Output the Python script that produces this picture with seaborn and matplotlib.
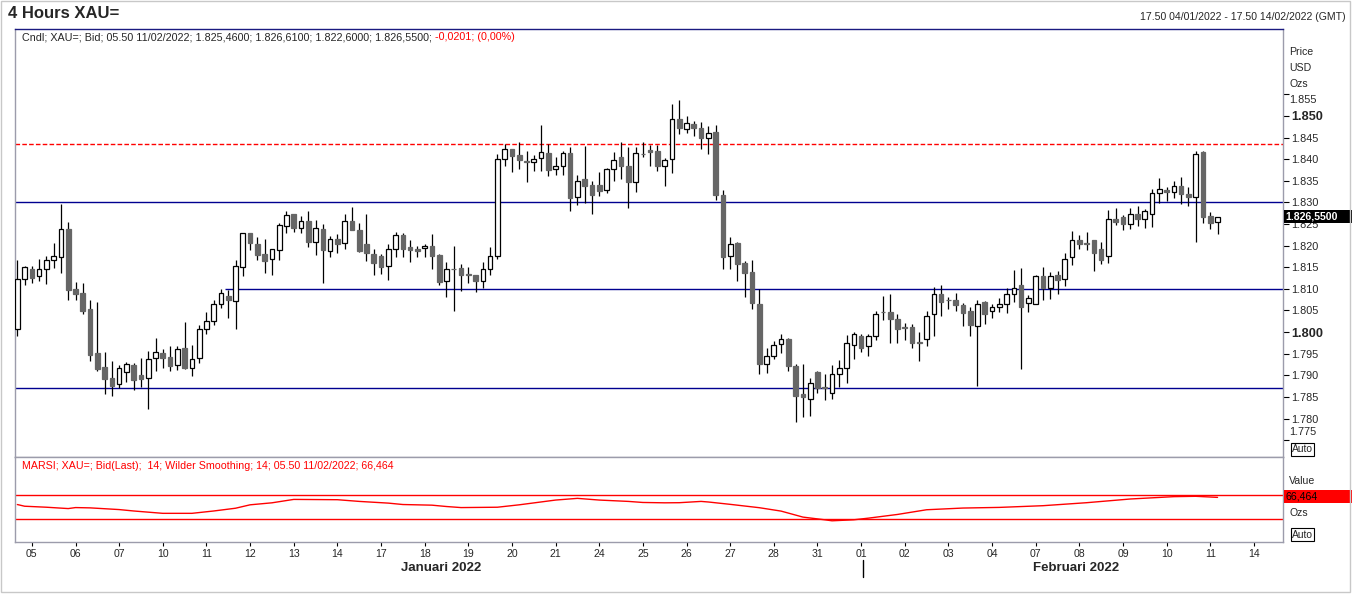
import numpy as np
import pandas as pd
import matplotlib
matplotlib.use("Agg")
import matplotlib.pyplot as plt
import matplotlib.transforms as mtransforms
from matplotlib.patches import Rectangle
from matplotlib.lines import Line2D
import seaborn as sns

# 4h candles, 04/01/2022 17.50 -> 11/02/2022 05.50 (prices in USD)
opens = [1800.8, 1812.2, 1814.7, 1812.9, 1814.7, 1816.6, 1817.3, 1823.8, 1810.0, 1809.0,
         1805.3, 1795.1, 1791.9, 1789.4, 1787.9, 1790.8, 1792.4, 1790.0, 1789.3, 1794.1,
         1795.1, 1794.2, 1792.3, 1796.3, 1791.7, 1793.9, 1800.8, 1802.5, 1806.6, 1808.3,
         1807.1, 1815.0, 1822.8, 1820.4, 1818.1, 1816.8, 1818.9, 1824.5, 1827.2, 1824.0,
         1825.8, 1820.8, 1823.8, 1818.8, 1821.5, 1820.5, 1825.6, 1823.5, 1820.3, 1818.1,
         1817.6, 1815.2, 1819.1, 1822.4, 1819.6, 1819.1, 1819.4, 1819.9, 1817.8, 1811.7,
         1814.7, 1814.8, 1813.4, 1813.2, 1811.7, 1814.5, 1817.7, 1840.0, 1842.3, 1841.0,
         1839.6, 1839.4, 1840.2, 1841.4, 1837.7, 1838.3, 1841.4, 1831.3, 1835.3, 1834.0,
         1834.0, 1832.8, 1837.7, 1840.5, 1838.4, 1834.6, 1841.3, 1842.1, 1841.9, 1838.3,
         1840.0, 1849.2, 1846.9, 1848.1, 1847.1, 1844.8, 1846.2, 1831.6, 1817.5, 1820.6,
         1815.9, 1813.8, 1806.6, 1792.7, 1794.4, 1797.2, 1798.5, 1792.1, 1785.6, 1784.6,
         1790.7, 1787.3, 1786.0, 1790.4, 1791.8, 1796.9, 1799.2, 1796.7, 1799.2, 1804.7,
         1804.7, 1803.0, 1801.1, 1801.1, 1797.6, 1798.5, 1804.2, 1808.7, 1807.4, 1807.3,
         1806.3, 1804.8, 1801.5, 1806.9, 1804.8, 1805.7, 1806.4, 1808.7, 1810.8, 1806.8,
         1806.4, 1812.9, 1810.3, 1813.1, 1812.2, 1817.3, 1821.3, 1820.6, 1821.3, 1819.2,
         1817.5, 1826.2, 1826.6, 1825.1, 1827.3, 1826.1, 1827.2, 1832.1, 1832.8, 1832.3,
         1833.9, 1831.9, 1831.3, 1841.7, 1826.8, 1825.46]
highs = [1816.7, 1815.2, 1815.3, 1816.8, 1817.6, 1820.7, 1829.6, 1825.5, 1811.6, 1811.3,
         1807.4, 1806.9, 1795.4, 1793.3, 1792.4, 1793.0, 1792.8, 1793.9, 1795.6, 1798.7,
         1796.0, 1796.8, 1796.8, 1802.3, 1797.0, 1801.6, 1804.6, 1807.5, 1810.0, 1809.7,
         1816.7, 1823.0, 1822.8, 1822.0, 1821.5, 1819.3, 1825.3, 1827.9, 1827.3, 1826.8,
         1827.9, 1825.9, 1824.9, 1822.3, 1822.7, 1827.2, 1828.9, 1825.2, 1827.3, 1819.2,
         1818.1, 1820.4, 1823.2, 1822.8, 1821.3, 1819.9, 1820.3, 1822.7, 1818.0, 1816.2,
         1820.0, 1815.8, 1815.0, 1813.3, 1816.2, 1819.7, 1841.1, 1843.4, 1842.4, 1843.9,
         1841.9, 1841.0, 1847.9, 1843.5, 1840.5, 1841.8, 1842.8, 1836.3, 1843.1, 1834.9,
         1837.0, 1838.0, 1841.7, 1843.9, 1842.7, 1842.7, 1843.9, 1843.3, 1843.3, 1840.2,
         1852.8, 1853.7, 1850.0, 1848.8, 1848.5, 1847.7, 1847.9, 1832.9, 1822.0, 1820.8,
         1816.4, 1816.6, 1810.0, 1796.2, 1797.9, 1799.5, 1798.7, 1792.7, 1792.7, 1789.3,
         1791.0, 1790.2, 1792.3, 1793.5, 1799.3, 1800.0, 1799.5, 1799.5, 1804.9, 1808.3,
         1808.8, 1804.2, 1802.0, 1801.9, 1799.9, 1804.8, 1810.5, 1810.9, 1808.1, 1809.0,
         1806.7, 1805.7, 1807.4, 1807.2, 1806.6, 1807.8, 1810.1, 1814.4, 1814.8, 1808.6,
         1813.3, 1815.0, 1813.8, 1814.1, 1818.2, 1823.4, 1822.5, 1823.1, 1821.4, 1820.8,
         1828.2, 1828.6, 1827.1, 1828.6, 1829.2, 1828.5, 1833.1, 1835.6, 1833.6, 1835.0,
         1835.9, 1833.6, 1841.9, 1841.8, 1827.8, 1826.61]
lows = [1799.2, 1810.9, 1811.4, 1811.7, 1811.2, 1814.9, 1813.7, 1807.3, 1807.3, 1804.2,
        1793.4, 1791.1, 1785.7, 1785.3, 1787.0, 1788.5, 1786.5, 1787.3, 1782.1, 1791.0,
        1791.6, 1791.1, 1791.2, 1791.4, 1789.9, 1792.9, 1799.6, 1801.7, 1805.5, 1803.3,
        1800.6, 1812.9, 1819.0, 1816.6, 1813.7, 1813.3, 1816.7, 1822.8, 1823.2, 1822.8,
        1819.6, 1817.9, 1811.3, 1817.4, 1818.4, 1819.1, 1823.5, 1818.5, 1816.5, 1813.3,
        1813.5, 1812.0, 1817.3, 1817.3, 1816.3, 1817.3, 1817.3, 1814.5, 1811.0, 1808.2,
        1804.9, 1809.6, 1811.4, 1809.3, 1810.2, 1813.3, 1817.0, 1838.3, 1837.1, 1837.7,
        1834.8, 1837.3, 1837.3, 1836.2, 1836.4, 1836.4, 1828.1, 1829.3, 1829.9, 1827.4,
        1831.4, 1832.1, 1835.0, 1835.3, 1828.6, 1832.5, 1840.4, 1838.3, 1837.3, 1833.9,
        1836.9, 1845.9, 1846.1, 1845.4, 1842.4, 1841.3, 1830.6, 1814.5, 1814.7, 1811.9,
        1808.2, 1805.3, 1790.2, 1790.6, 1793.7, 1795.1, 1791.0, 1779.3, 1780.4, 1780.6,
        1786.0, 1784.3, 1784.6, 1787.3, 1788.3, 1793.8, 1795.4, 1794.5, 1798.2, 1802.8,
        1797.5, 1797.5, 1798.2, 1796.2, 1793.4, 1796.8, 1799.2, 1803.8, 1805.4, 1804.9,
        1801.5, 1799.2, 1787.6, 1801.9, 1803.3, 1804.7, 1804.4, 1807.0, 1791.5, 1804.7,
        1806.4, 1807.5, 1807.7, 1808.9, 1810.7, 1815.6, 1819.1, 1819.0, 1814.2, 1815.7,
        1816.0, 1824.8, 1823.7, 1823.8, 1824.5, 1824.1, 1824.2, 1829.9, 1830.2, 1831.1,
        1829.6, 1829.2, 1820.8, 1825.2, 1823.8, 1822.60]
closes = [1812.2, 1815.0, 1812.6, 1814.7, 1816.6, 1817.5, 1823.8, 1809.7, 1808.9, 1804.9,
          1794.8, 1791.5, 1789.2, 1787.6, 1791.8, 1792.6, 1789.0, 1789.2, 1793.7, 1795.5,
          1794.1, 1792.2, 1796.0, 1791.7, 1793.7, 1800.6, 1802.5, 1806.6, 1809.0, 1807.3,
          1815.2, 1822.8, 1820.5, 1817.9, 1816.5, 1819.1, 1824.8, 1827.0, 1824.0, 1825.8,
          1820.9, 1824.0, 1819.0, 1821.5, 1820.4, 1825.8, 1823.5, 1818.8, 1818.2, 1816.0,
          1815.1, 1819.1, 1822.4, 1819.1, 1819.0, 1818.8, 1819.8, 1817.7, 1811.6, 1814.7,
          1814.5, 1813.3, 1813.3, 1811.7, 1814.5, 1817.7, 1840.0, 1842.3, 1840.8, 1839.9,
          1839.4, 1840.0, 1841.7, 1837.5, 1838.3, 1841.4, 1830.9, 1835.0, 1833.9, 1831.6,
          1832.7, 1837.7, 1839.7, 1838.5, 1834.6, 1841.4, 1841.1, 1841.7, 1838.5, 1839.7,
          1849.2, 1847.1, 1848.3, 1847.1, 1845.0, 1846.0, 1831.7, 1817.4, 1820.4, 1815.8,
          1813.6, 1806.8, 1792.7, 1794.5, 1797.1, 1798.5, 1792.2, 1785.3, 1784.9, 1788.3,
          1787.1, 1787.1, 1790.2, 1791.6, 1797.4, 1799.5, 1796.4, 1799.2, 1804.1, 1804.6,
          1803.0, 1800.8, 1800.9, 1797.4, 1797.5, 1803.6, 1808.7, 1807.0, 1807.3, 1806.3,
          1804.5, 1801.7, 1806.6, 1804.2, 1805.7, 1806.4, 1808.7, 1810.1, 1805.9, 1807.8,
          1812.9, 1810.2, 1812.9, 1812.0, 1816.8, 1821.2, 1820.4, 1820.4, 1818.4, 1816.7,
          1826.1, 1825.5, 1825.1, 1827.2, 1826.2, 1827.9, 1832.1, 1833.0, 1832.3, 1833.9,
          1831.9, 1831.2, 1841.1, 1826.7, 1825.3, 1826.55]

# MARSI (14, Wilder) sampled along the bars
rsi_bar = [0, 1, 4, 7, 8, 10, 14, 16, 20, 24, 27, 30, 32, 35, 38, 44, 47, 51, 53, 57,
           59, 61, 66, 69, 74, 77, 80, 84, 86, 89, 91, 94, 95, 98, 102, 105, 108, 111, 112, 115,
           117, 121, 125, 130, 135, 141, 147, 153, 159, 162, 165]
rsi_value = [54.3, 51.4, 49.7, 47.4, 49.1, 48.6, 45.7, 43.3, 39.3, 39.3, 43.3, 48.0, 53.8, 57.2, 63.0,
             62.5, 59.6, 56.7, 54.3, 53.2, 50.9, 49.1, 49.7, 53.8, 61.9, 64.8, 61.9, 59.6, 57.8, 57.2,
             57.4, 59.6, 58.6, 54.6, 48.9, 43.1, 32.9, 28.3, 26.6, 28.3, 31.1, 37.4, 45.4, 48.3, 49.4,
             52.3, 57.4, 63.7, 67.7, 68.3, 66.464]

day_labels = ["05", "06", "07", "10", "11", "12", "13", "14", "17", "18", "19", "20", "21", "24",
              "25", "26", "27", "28", "31", "01", "02", "03", "04", "07", "08", "09", "10", "11", "14"]
month_labels = ["Januari 2022", "Februari 2022"]

resistance = 1843.5
level_mid = 1830
support_hi = 1810
support_lo = 1787
rsi_upper, rsi_lower = 70, 30

sns.set_style("white")
plt.rcParams["font.family"] = ["Liberation Sans", "DejaVu Sans"]

W, H = 1352, 596
fig = plt.figure(figsize=(W / 100, H / 100), dpi=100)


def fx(px):
    return px / W


def fy(py):
    return 1 - py / H


ax = fig.add_axes([fx(15), fy(457), fx(1283) - fx(15), fy(29) - fy(457)])
ax_r = fig.add_axes([fx(15), fy(542), fx(1283) - fx(15), fy(457) - fy(542)])

df = pd.DataFrame({"open": opens, "high": highs, "low": lows, "close": closes})
df["bar"] = np.arange(len(df))
up = df["close"] >= df["open"]
body_low = df[["open", "close"]].min(axis=1)
body_h = (df["close"] - df["open"]).abs()

ax.vlines(df["bar"], df["low"], df["high"], color="black", lw=0.9, zorder=2)
ax.bar(df["bar"][up], body_h[up], bottom=body_low[up], width=0.64,
       color="white", edgecolor="black", lw=0.9, zorder=3)
ax.bar(df["bar"][~up], body_h[~up], bottom=body_low[~up], width=0.64,
       color="#666666", edgecolor="#666666", lw=0.9, zorder=3)

xmin, xmax = -0.32, 174.0
navy = "#000090"
ax.axhline(resistance, color="red", lw=1, ls=(0, (3.3, 1.6)), zorder=1)
ax.axhline(level_mid, color=navy, lw=1, zorder=1)
ax.hlines(support_hi, 28.6, xmax, color=navy, lw=1, zorder=1)
ax.axhline(support_lo, color=navy, lw=1, zorder=1)

ax.set_xlim(xmin, xmax)
ax.set_ylim(1771.1, 1870.1)
ax.set_xticks([])
ax.yaxis.tick_right()
yt = np.arange(1775, 1856, 5)
# end labels are nudged inwards in the original, drawn separately below
ax.set_yticks(yt, labels=["" if v in (yt[0], yt[-1]) else f"{v / 1000:.3f}" for v in yt])
for v, lab in zip(yt, ax.get_yticklabels()):
    if v % 50 == 0:
        lab.set_fontweight("bold")
        lab.set_fontsize(9.2)
    else:
        lab.set_fontsize(7.8)
ax.tick_params(axis="y", direction="out", length=4, width=0.8, color="black", pad=2, right=True)
for v, dy in [(yt[0], 8), (yt[-1], -6)]:
    ax.annotate(f"{v / 1000:.3f}", xy=(1, v), xycoords=("axes fraction", "data"),
                xytext=(6.5 * 0.72, dy * 0.72), textcoords="offset points",
                fontsize=7.8, va="center", ha="left", annotation_clip=False)

# RSI panel
sns.lineplot(x=rsi_bar, y=rsi_value, ax=ax_r, color="red", lw=1)
ax_r.axhline(rsi_upper, color="red", lw=1)
ax_r.axhline(rsi_lower, color="red", lw=1)
ax_r.set_xlim(xmin, xmax)
ax_r.set_ylim(-9.5, 135.2)
ax_r.set_yticks([])
ax_r.set_ylabel("")
bars_per_day = 6
first_day_bar = 2
ax_r.set_xticks([first_day_bar + bars_per_day * k for k in range(len(day_labels))], labels=day_labels)
ax_r.tick_params(axis="x", direction="out", length=3, width=0.8, color="black", pad=2,
                 labelsize=7.6, bottom=True)

for a in (ax, ax_r):
    for s in a.spines.values():
        s.set_color("#9c9cab")
        s.set_linewidth(1)
ax.spines["top"].set_color("#1a1a80")

# header texts
fig.text(fx(8), fy(14), "4 Hours XAU=", fontsize=12, fontweight="bold", va="center", ha="left")
fig.text(fx(1346), fy(17), "17.50 04/01/2022 - 17.50 14/02/2022 (GMT)", fontsize=7.6,
         va="center", ha="right")
t = fig.text(fx(22), fy(37), "Cndl; XAU=; Bid; 05.50 11/02/2022; 1.825,4600; 1.826,6100; 1.822,6000; 1.826,5500;",
             fontsize=7.75, va="center", ha="left")
ax.annotate("-0,0201; (0,00%)", xy=(1, 0.5), xycoords=t, xytext=(2.2, 0), textcoords="offset points",
            fontsize=7.75, va="center", ha="left", color="red", annotation_clip=False)
fig.text(fx(22), fy(466), "MARSI; XAU=; Bid(Last);  14; Wilder Smoothing; 14; 05.50 11/02/2022; 66,464",
         fontsize=7.7, va="center", ha="left", color="red")

# right side panel labels
for py, s in [(52, "Price"), (68, "USD"), (84, "Ozs"), (481, "Value"), (513, "Ozs")]:
    fig.text(fx(1289), fy(py), s, fontsize=7.6, va="center", ha="left")

fig.add_artist(Rectangle((fx(1284), fy(223)), fx(68), 13 / H, transform=fig.transFigure,
                         facecolor="black", edgecolor="none"))
fig.text(fx(1285), fy(216.5), "1.826,5500", fontsize=7.6, fontweight="bold", color="white",
         va="center", ha="left")
fig.add_artist(Rectangle((fx(1284), fy(503)), fx(68), 13 / H, transform=fig.transFigure,
                         facecolor="red", edgecolor="none"))
fig.text(fx(1285), fy(496.5), "66,464", fontsize=7.6, color="black", va="center", ha="left")

for top in (443, 528):
    fig.add_artist(Rectangle((fx(1291), fy(top + 13)), fx(23), 13 / H, transform=fig.transFigure,
                             facecolor="white", edgecolor="black", lw=0.8))
    fig.text(fx(1302.5), fy(top + 6.5), "Auto", fontsize=7.4, va="center", ha="center")

# month captions under the day ticks
trans = mtransforms.blended_transform_factory(ax_r.transData, fig.transFigure)
for xb, s in zip([58.2, 145.5], month_labels):
    fig.text(xb, fy(568), s, transform=trans, fontsize=9.5, fontweight="bold", va="center", ha="center")
fig.add_artist(Line2D([116.3, 116.3], [fy(560), fy(577)], transform=trans, color="black", lw=1))

# outer window frame
fig.add_artist(Rectangle((fx(1), fy(592)), fx(1349), 591.5 / H, transform=fig.transFigure,
                         fill=False, edgecolor="#c8c8c8", lw=1))

fig.savefig("out.png", dpi=100)
